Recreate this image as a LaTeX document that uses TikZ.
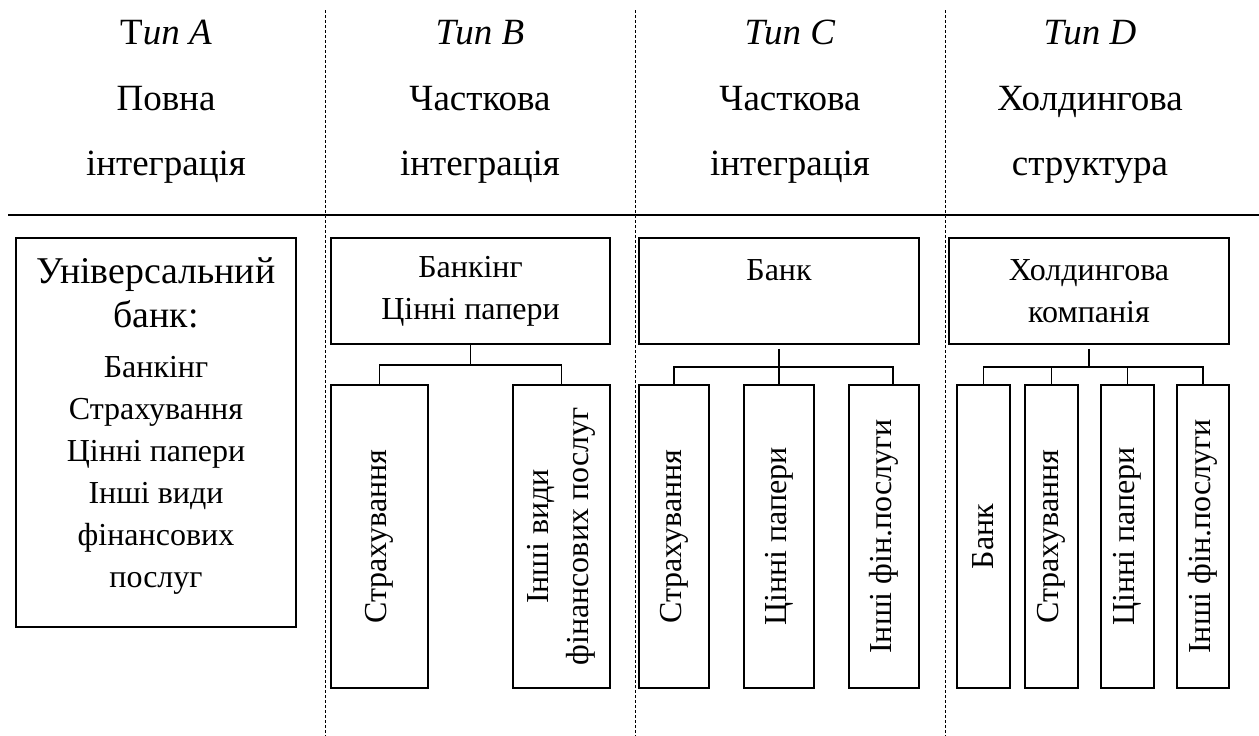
\documentclass[tikz,border=0pt]{standalone}
\usepackage{fontspec}
\setmainfont{Liberation Serif}
\begin{document}
\begin{tikzpicture}[x=1pt,y=-1pt,
  box/.style={draw, line width=1.8pt, inner sep=0pt, align=center, font=\fontsize{32}{42}\selectfont},
  conn/.style={line width=1.8pt},
  sepline/.style={dash pattern=on 3pt off 2pt, line width=0.8pt},
  head/.style={font=\fontsize{37}{37}\selectfont, anchor=base, inner sep=0pt},
  ]
\useasboundingbox (0,0) rectangle (1259,736);
% separators
\coordinate (hl) at (8,215);
\coordinate (hr) at (1259,215);
\draw[line width=2.6pt] (hl) -- (hr);
\foreach \x/\n in {325/1,635/2,945/3}{
  \coordinate (dt\n) at (\x,10);
  \coordinate (db\n) at (\x,736);
  \draw[sepline] (dt\n) -- (db\n);
}
% headers
\node[head] (hA1) at (166,45) {Т\textit{ип A}};
\node[head] (hA2) at (166,110) {Повна};
\node[head] (hA3) at (166,175) {інтеграція};
\node[head] (hB1) at (480,45) {\textit{Тип B}};
\node[head] (hB2) at (480,110) {Часткова};
\node[head] (hB3) at (480,175) {інтеграція};
\node[head] (hC1) at (790,45) {\textit{Тип C}};
\node[head] (hC2) at (790,110) {Часткова};
\node[head] (hC3) at (790,175) {інтеграція};
\node[head] (hD1) at (1090,45) {\textit{Тип D}};
\node[head] (hD2) at (1090,110) {Холдингова};
\node[head] (hD3) at (1090,175) {структура};
% type A
\node[box, minimum width=280, minimum height=389] (A) at (156,432.5) {};
\node[align=center, inner sep=0pt, font=\fontsize{32}{42}\selectfont] (Atext) at (156,426)
  {\fontsize{37.8}{44}\selectfont Універсальний\\[2pt]
   \fontsize{37.8}{44}\selectfont банк:\\[8pt]
   Банкінг\\Страхування\\Цінні папери\\Інші види\\фінансових\\послуг};
% type B
\node[box, minimum width=279, minimum height=106] (B) at (470.5,291) {Банкінг\\Цінні папери};
\node[box, rotate=90, minimum width=303, minimum height=97] (B1) at (379.5,536.5) {Страхування};
\node[box, rotate=90, minimum width=303, minimum height=97, font=\fontsize{32}{40}\selectfont] (B2) at (561.5,536.5) {Інші види\\фінансових послуг};
\draw[conn] (B.south) -- ++(0,20) coordinate (Bj);
\draw[conn] (B1.east) |- (Bj) -| (B2.east);
% type C
\node[box, minimum width=280, minimum height=106] (C) at (779,291) {Банк\\\phantom{Банк}};
\node[box, rotate=90, minimum width=303, minimum height=70] (C1) at (674,536.5) {Страхування};
\node[box, rotate=90, minimum width=303, minimum height=70] (C2) at (779,536.5) {Цінні папери};
\node[box, rotate=90, minimum width=303, minimum height=70] (C3) at (884,536.5) {Інші фін.послуги};
\draw[conn] ([yshift=-4pt]C.south) -- ++(0,18) coordinate (Cj);
\draw[conn] (C1.east) |- (Cj) -| ([xshift=9pt]C3.east);
\draw[conn] (C2.east) -- (Cj);
% type D
\node[box, minimum width=280, minimum height=106] (D) at (1089,291) {Холдингова\\компанія};
\node[box, rotate=90, minimum width=303, minimum height=53] (D1) at (983.5,536.5) {Банк};
\node[box, rotate=90, minimum width=303, minimum height=53] (D2) at (1051.5,536.5) {Страхування};
\node[box, rotate=90, minimum width=303, minimum height=53] (D3) at (1127.5,536.5) {Цінні папери};
\node[box, rotate=90, minimum width=303, minimum height=52] (D4) at (1203,536.5) {Інші фін.послуги};
\draw[conn] ([yshift=-4pt]D.south) -- ++(0,18) coordinate (Dj);
\draw[conn] (D1.east) |- (Dj) -| (D4.east);
\draw[conn] (D2.east) |- (Dj);
\draw[conn] (D3.east) |- (Dj);
\end{tikzpicture}
\end{document}
